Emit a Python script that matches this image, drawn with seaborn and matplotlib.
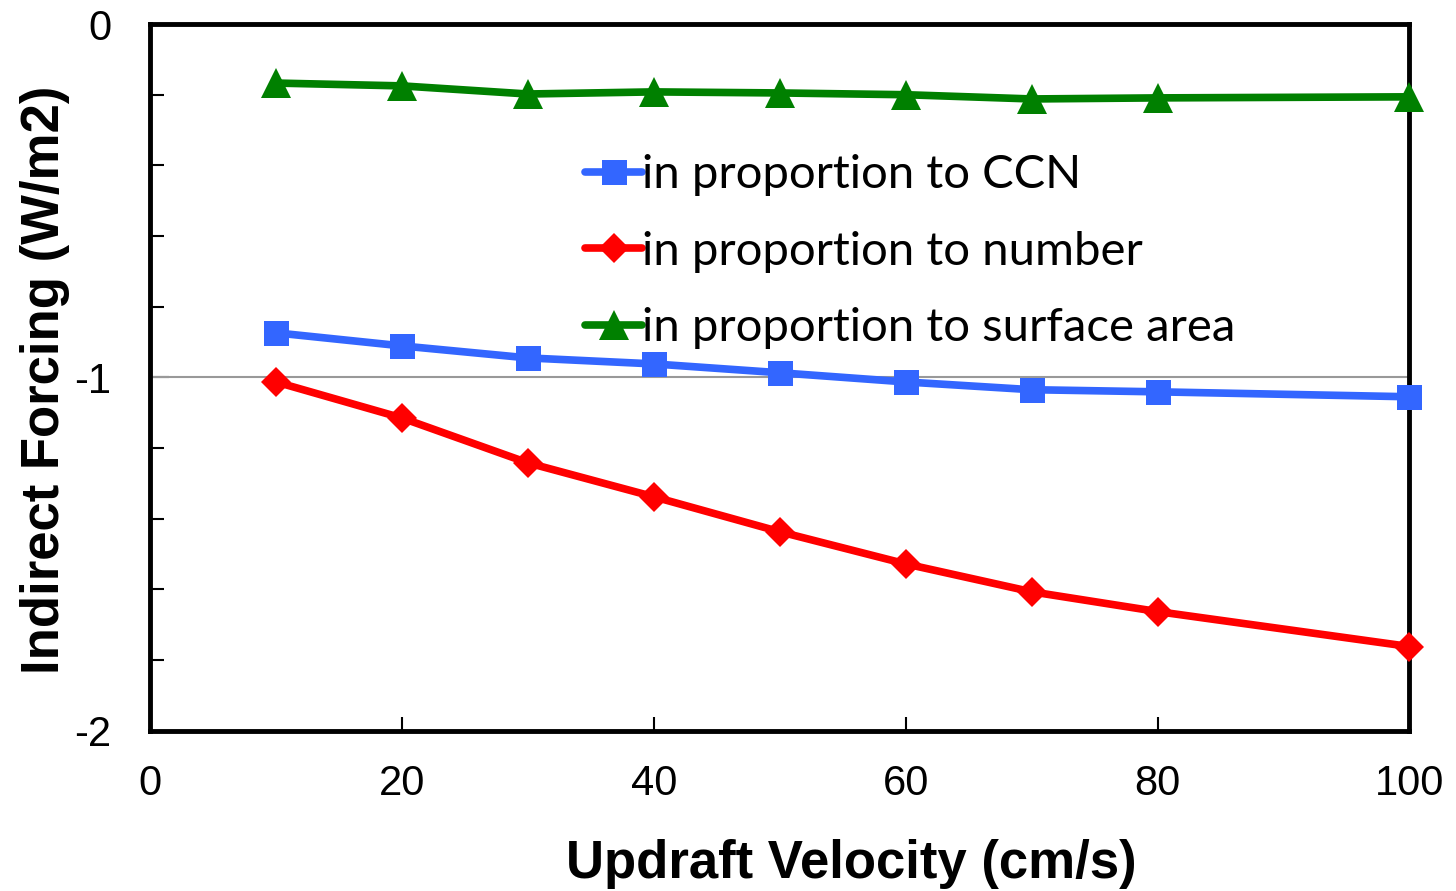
import matplotlib
matplotlib.use("Agg")
import matplotlib.pyplot as plt
from matplotlib.ticker import MultipleLocator, FixedFormatter, FixedLocator
import seaborn as sns
import pandas as pd

velocity = [10, 20, 30, 40, 50, 60, 70, 80, 100]
ccn = [-0.874, -0.911, -0.945, -0.962, -0.987, -1.013, -1.035, -1.041, -1.055]
number = [-1.013, -1.115, -1.242, -1.338, -1.437, -1.528, -1.607, -1.663, -1.762]
surface = [-0.167, -0.175, -0.198, -0.192, -0.195, -0.200, -0.212, -0.209, -0.206]

series_names = ["in proportion to CCN", "in proportion to number",
                "in proportion to surface area"]
colors = ["#3366FF", "#FF0000", "#008000"]
markers = ["s", "D", "^"]
marker_sizes = [18, 15, 21]

df = pd.concat([
    pd.DataFrame({"velocity": velocity, "forcing": vals, "series": name})
    for name, vals in zip(series_names, [ccn, number, surface])
])

sns.set_style("white")
plt.rcParams["font.family"] = ["Liberation Sans", "DejaVu Sans"]
plt.rcParams["axes.unicode_minus"] = False
plt.rcParams["text.color"] = "black"

fig = plt.figure(figsize=(14.56, 8.91), dpi=100)
ax = fig.add_axes([0.103, 0.180, 0.865, 0.793])

# gray line at -1 (major y grid)
ax.axhline(-1, color="#999999", lw=1.5, zorder=1)

sns.lineplot(data=df, x="velocity", y="forcing", hue="series", style="series",
             palette=dict(zip(series_names, colors)),
             markers=dict(zip(series_names, markers)), dashes=False,
             hue_order=series_names, style_order=series_names,
             lw=5.5, markersize=16, markeredgewidth=0, ax=ax, zorder=3)
for line, ms in zip(ax.lines[1:], marker_sizes):
    line.set_clip_on(False)
    line.set_markersize(ms)

ax.set_xlim(0, 100)
ax.set_ylim(-2, 0)
ax.xaxis.set_major_locator(MultipleLocator(20))
ax.yaxis.set_major_locator(FixedLocator([-2, -1, 0]))
ax.yaxis.set_major_formatter(FixedFormatter(["-2", "-1", "0"]))
ax.yaxis.set_minor_locator(MultipleLocator(0.2))
ax.tick_params(axis="both", which="both", direction="in", length=10, width=1.5,
               color="black", labelcolor="black", labelsize=30, pad=24)
ax.tick_params(axis="y", which="major", length=14, pad=28)
ax.tick_params(axis="x", which="both", bottom=True, top=False)
ax.tick_params(axis="y", which="both", left=True, right=False)

for sp in ax.spines.values():
    sp.set_linewidth(3.5)
    sp.set_color("black")

ax.set_xlabel("Updraft Velocity (cm/s)", fontsize=38, fontweight="bold", color="black")
ax.set_ylabel("Indirect Forcing (W/m2)", fontsize=38, fontweight="bold", color="black")
ax.xaxis.set_label_coords(0.557, -0.154)
ax.yaxis.set_label_coords(-0.0635, 0.496)

leg = ax.legend(loc="upper left", bbox_to_anchor=(0.327, 0.849), frameon=False,
                prop={"family": "Lato", "size": 34}, handlelength=1.2,
                handletextpad=0.0, labelspacing=0.73, borderpad=0)
for text in leg.get_texts():
    text.set_color("black")
for h, ms in zip(leg.legend_handles, marker_sizes):
    h.set_markersize(ms)

fig.savefig("out.png", dpi=100)
